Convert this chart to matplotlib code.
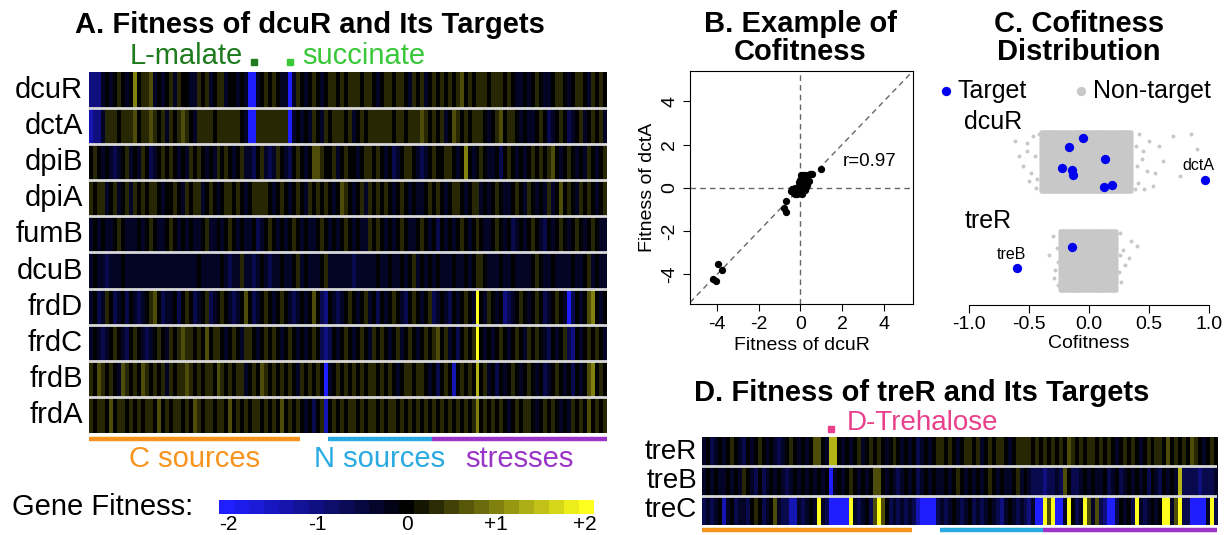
import matplotlib
matplotlib.use('Agg')
import matplotlib.pyplot as plt
import matplotlib.transforms as mtransforms
import numpy as np
from matplotlib.colors import LinearSegmentedColormap, Normalize

plt.rcParams['font.family'] = ['Liberation Sans', 'DejaVu Sans']
plt.rcParams['axes.unicode_minus'] = False

W, H = 1228, 535
NCOL = 130

# cell code -> gene fitness
code_val = {'B': -2.0, 'b': -1.4, 'm': -1.0, 'n': -0.6, 'd': -0.3, '.': 0.0,
            'o': 0.3, 'y': 0.6, 'u': 1.0, 'Y': 1.4, '!': 2.0}

genes_a = ['dcuR', 'dctA', 'dpiB', 'dpiA', 'fumB', 'dcuB', 'frdD', 'frdC', 'frdB', 'frdA']
fit_dcuR = "mmmd.d.o.d .u.ooyd.d. odo..ddo.o d.ood..d.d BBd.o.o.dd Bdo.d.o.d. oo.o.ooo.o o.d.oo.oo. do.od.o.o. o.oy.o.ooo .ooo.o.dd. d.o.dd.oo. d.oo.do.o."
fit_dctA = "bmmdooo.oo oy.ooyo.od o.oyo.dooo o.oooooo.d BBoooooooo Bd.d.do.do .ooo.od.o. oooooo.oo. oooyo.o.od .yo.o.ooo. d.oy.oo.d. dd.o.nd.o. nd.od.o.od"
fit_dpiB = ".o.d.dnd.o d.do.nd.o. o.d.do.o.d .do.o.d.od dn.odndo.d n.o.d.yyo. .od.o..d.o o.o.d.nd.o o.dnd.o..o o.d.u.d.o. dd.n.o.d.d .o.o.oy.d. o.d.do.d.o"
fit_dpiA = "o.ood.od.o do.o.oo.d. .o.do.ood. o.d.oo.o.d .oooo.d.o. d.o.do.o.o .d.yo.d.od o.o.o.d.o. d.dd.o.o.d .oo.d.ood. d.o.dd.o.d o.d.dod.y. o.do.o.d.o"
fit_fumB = "d.d.dd.o.d dd.d.o.dd. o.d.d.dd.o dd.d.o.d.d d.nd.o.d.d .o.d.dd.o. d.d.o.d.dd o.o.d.d.o. dd.o.d.n.d .d.o.d.o.d d.o.d.nd.d .o.dn.d.o. d.o.d.o.dd"
fit_dcuB = "d.ddnddd.d dddddddddd ddddddd.dd ddd.dnddod dnd.dndd.d d.od.ddd.o ddddddnddd dd.dd.dd.d .od.d.d.dd d.dd.d.oo. ddd.dd.ddd d.o.dd.ddd d.dd.od.dd"
fit_frdD = "d.ndo.nd.n .dnd.oy.nd d.n.o.nd.o nd.o.dnd.y .nd.o.d.o. dnd.d.y.nm .dnd.o.d.o d.n.d.o.dn .o.d.ond.d n.d.o.d!.d o.d.mnd.o. d.o.nd.o.d Bn.d.yu.d."
fit_frdC = "d.dnd.o.dn .o.dnd.o.d o.oyoo.o.y .oo.d.o.do o.d.o.o.d. o.d.d.o.nm n.d.o.d.o. do.o.d.od. o.d.o.oy.o d.n.o.o!.d .d.o.d.o.d o.o.dn.d.o nm.d.o.o.d"
fit_frdB = "o.yo.o.dyo .o.yo.o.od o.ooyo.o.o o.yo.o.ood .o.yo.o.o. o.do.o.o.B d.o.o.o.o. oo.o.o.d.o o.oo.d.n.o .b.o.o.Y.o d.n.d.o.d. o.d.nd.o.d .n.d.yu.o."
fit_frdA = "o.oo.y.oo. o.o.oo.y.o .oo.o.yo.o o.oo.y.o.o .oo.o.o.y. o.o.d.n.ob .o.o.oo.o. oo.o.oo.o. o.o.o.o.o. o.o.o.ou.o .o.o.d.o.o o.d.o.o.d. do.o.y.o.o"
rows_a = [fit_dcuR, fit_dctA, fit_dpiB, fit_dpiA, fit_fumB,
          fit_dcuB, fit_frdD, fit_frdC, fit_frdB, fit_frdA]

genes_d = ['treR', 'treB', 'treC']
fit_treR = "d.nd.d.o.d n.d.o.d.dn d.o.d.d.yy .dYY.d.d.o d.o.o.d.o. d.d.nd.d.o o.o.d.oo.o d.o.oo.d.o ooo.o.o.o. o.yo.o.oo. o.o.d.o.o. d.o.oo.y.o .o.yo.d.o."
fit_treB = "d.d.dd.d.d o.dn.nd.d. dnd.d.d.d. d.Bd.d.o.d .d.yy.d.dn d.d.nd.d.d d.d.o.d.d. d.o.d.dd.o d.dnnnmnnd ny.nnd.d.d d.nd.nd.d. d.n.dn.d.d Ynnnnmnnnd"
fit_treC = "ndnd.bd.nd dn.o.nd.yd nnbbdnd.d! dnBBBBB!dn d.ny!y.ndn dndnbBBBBn dnd.dnd.nd nd.dnmd.dn dnmdBB!y!B Bd!.nd!ydy nmBBn.d.n! dnd.d.!!dy !nnBBBBd!n"
rows_d = [fit_treR, fit_treB, fit_treC]

cat_names = ['C sources', 'N sources', 'stresses']
cat_first = [0, 60, 86]
cat_last = [53, 86, 130]
cat_colors = ['#f7941d', '#29abe2', '#9a35c8']

cond_a_names = ['L-malate', 'succinate']
cond_a_cols = [41, 50]
cond_a_colors = ['#1e7b1e', '#38c838']
cond_d_name = 'D-Trehalose'
cond_d_col = 32
cond_d_color = '#e8408a'

# panel B: fitness of dcuR vs dctA
b_x = [-4.20, -4.06, -3.98, -3.78, -0.70, -0.77, -0.70, 0.99,
       -0.45, -0.40, -0.35, -0.30, -0.30, -0.25, -0.20, -0.20, -0.15, -0.10, -0.10,
       -0.05, -0.05, 0.00, 0.00, 0.00, 0.05, 0.05, 0.05, 0.10, 0.10, 0.12, 0.15,
       0.15, 0.20, 0.20, 0.25, 0.25, 0.30, 0.30, 0.35, 0.40, 0.45, 0.50, 0.55,
       -0.02, 0.08, -0.15, 0.18, 0.22, -0.25, 0.02, 0.12, -0.08]
b_y = [-4.20, -4.30, -3.54, -3.80, -0.62, -0.92, -1.12, 0.88,
       -0.15, -0.05, -0.20, -0.10, -0.25, -0.30, -0.15, -0.28, -0.05, -0.20, 0.05,
       -0.25, 0.10, 0.00, 0.20, -0.10, 0.30, 0.45, -0.20, 0.10, 0.55, 0.25, 0.40,
       -0.05, 0.20, 0.60, 0.35, 0.05, 0.50, 0.15, 0.60, 0.30, 0.62, 0.62, 0.65,
       0.35, -0.30, -0.30, 0.10, -0.10, 0.00, 0.60, 0.60, 0.25]
b_r = 0.97

# panel C: cofitness of each regulator with all genes
c_regs = ['dcuR', 'treR']
c_rows = [2, 1]
tgt_cof = [[-0.048, -0.165, 0.134, -0.223, -0.140, -0.131, 0.123, 0.195, 0.965],
           [-0.597, -0.145]]
tgt_jit = [[0.235, 0.144, 0.020, -0.068, -0.088, -0.135, -0.263, -0.236, -0.185],
           [-0.077, 0.135]]
tgt_named = [('dctA', 0.965, -0.185), ('treB', -0.597, -0.077)]
bg_lo = [-0.40, -0.24]
bg_hi = [0.36, 0.23]
stray_cof = [[-0.62, -0.55, -0.52, -0.50, -0.47, -0.58, 0.42, 0.45, 0.48, 0.50,
              0.53, 0.58, 0.62, 0.70, 0.76, 0.85, 0.90, 0.46, 0.40, 0.55, -0.44, -0.42,
              -0.45, -0.48, -0.43, 0.39, 0.41, 0.44, -0.52, 0.38],
             [-0.30, -0.28, -0.33, -0.26, 0.26, 0.28, 0.30, 0.35, 0.27, 0.33, 0.40,
              -0.27, -0.29, 0.25, 0.26, -0.26]]
stray_jit = [[0.20, -0.05, 0.10, -0.20, 0.25, 0.05, 0.28, 0.10, -0.10, 0.20,
              -0.25, 0.15, 0.00, 0.25, -0.15, 0.28, 0.12, -0.28, -0.05, -0.12, -0.27, 0.27,
              0.05, -0.12, -0.18, 0.15, -0.22, 0.02, 0.18, -0.28],
             [0.25, -0.10, 0.05, -0.25, 0.28, 0.10, -0.05, 0.20, -0.22, 0.02, 0.15,
              0.12, -0.18, -0.12, 0.05, -0.02]]

cmap = LinearSegmentedColormap.from_list('fit', [(0.12, 0.12, 1.0), (0, 0, 0), (1.0, 1.0, 0.12)])
norm = Normalize(-2, 2)

fig = plt.figure(figsize=(W / 100, H / 100), dpi=100)
fig_px = mtransforms.Affine2D().scale(1.0 / W, -1.0 / H).translate(0, 1) + fig.transFigure


def px_axes(x0, y0, x1, y1):
    return fig.add_axes([x0 / W, 1 - y1 / H, (x1 - x0) / W, (y1 - y0) / H])


def decode(s):
    vals = [code_val[c] for c in s.replace(' ', '')][:NCOL]
    return vals + [0.0] * (NCOL - len(vals))


def heatmap(x0, y0, x1, y1, genes, rows, label_px, fs):
    ax = px_axes(x0, y0, x1, y1)
    mat = np.array([decode(r) for r in rows])
    ax.imshow(mat, cmap=cmap, norm=norm, aspect='auto', interpolation='nearest')
    for i in range(1, len(genes)):
        ax.axhline(i - 0.5, color='#d9d9d9', lw=2)
    ax.set_xticks([])
    ax.set_yticks([])
    for sp in ax.spines.values():
        sp.set_visible(False)
    tr = mtransforms.blended_transform_factory(ax.transAxes, ax.transData)
    for i, g in enumerate(genes):
        ax.text((label_px - x0) / (x1 - x0), i, g, transform=tr,
                ha='right', va='center', fontsize=fs)
    return ax


def cat_bars(ax, y_bar, y_text, lw, labels):
    tr = mtransforms.blended_transform_factory(ax.transData, fig_px)
    for name, a, b, c in zip(cat_names, cat_first, cat_last, cat_colors):
        ax.plot([a - 0.5, b - 0.5], [y_bar, y_bar], color=c, lw=lw,
                solid_capstyle='butt', transform=tr, clip_on=False)
        if labels:
            ax.text((a + b) / 2 - 0.5, y_text, name, color=c, fontsize=21,
                    ha='center', va='center', transform=tr)
    return tr


# ---- A ----
axA = heatmap(89, 72, 607, 433, genes_a, rows_a, 83, 21)
trA = cat_bars(axA, 439, 459, 3.2, True)
fig.text(310 / W, 1 - 25 / H, 'A. Fitness of dcuR and Its Targets',
         ha='center', va='center', fontsize=21, weight='bold')
for name, col, c, side in zip(cond_a_names, cond_a_cols, cond_a_colors, ['right', 'left']):
    axA.plot([col], [62], marker='s', ms=4.5, color=c, transform=trA, clip_on=False)
    off = -3.0 if side == 'right' else 3.0
    axA.text(col + off, 56, name, color=c, fontsize=21, ha=side, va='center', transform=trA)

# colour key
axK = px_axes(219, 500, 594, 514)
edges = np.linspace(-2.1, 2.1, 26)
mids = (edges[:-1] + edges[1:]) / 2
axK.pcolormesh(edges, [0, 1], mids[None, :], cmap=cmap, norm=norm)
axK.set_xlim(-2.1, 2.1)
axK.set_yticks([])
axK.set_xticks([-2, -1, 0, 1, 2])
axK.set_xticklabels(['-2', '-1', '0', '+1', '+2'], fontsize=15)
axK.tick_params(length=0, pad=1)
for sp in axK.spines.values():
    sp.set_visible(False)
fig.text(12 / W, 1 - 507 / H, 'Gene Fitness:', fontsize=21, va='center')

# ---- B ----
axB = px_axes(690, 71, 913, 304)
axB.axline((0, 0), (1, 1), color='#666666', lw=1, dashes=(4, 3))
axB.axvline(0, color='#666666', lw=1, dashes=(4, 3))
axB.axhline(0, color='#666666', lw=1, dashes=(4, 3))
axB.scatter(b_x, b_y, s=18, color='black', zorder=3)
axB.set_xlim(-5.3, 5.4)
axB.set_ylim(-5.37, 5.4)
axB.set_xticks([-4, -2, 0, 2, 4])
axB.set_yticks([-4, -2, 0, 2, 4])
axB.tick_params(labelsize=14, length=5)
for lab in axB.get_yticklabels():
    lab.set_rotation(90)
    lab.set_va('center')
axB.set_xlabel('Fitness of dcuR', fontsize=14, labelpad=3)
axB.set_ylabel('Fitness of dctA', fontsize=14, labelpad=4)
axB.text(3.3, 1.2, 'r=%.2f' % b_r, fontsize=13.5, ha='center', va='center')
fig.text(800 / W, 1 - 38 / H, 'B. Example of\nCofitness', ha='center', va='center',
         fontsize=21, weight='bold', linespacing=1.0)

# ---- C ----
axC = px_axes(969, 77, 1209, 305)
for k, row in enumerate(c_rows):
    gx, gy = np.meshgrid(np.arange(bg_lo[k], bg_hi[k], 0.008), np.arange(-0.3, 0.301, 0.02))
    axC.scatter(gx.ravel(), row + gy.ravel(), s=9, color='#c8c8c8', lw=0)
    axC.scatter(stray_cof[k], row + np.array(stray_jit[k]), s=8, color='#c8c8c8', lw=0)
    axC.scatter(tgt_cof[k], row + np.array(tgt_jit[k]), s=45, color='#0000ee', lw=0, zorder=3)
    axC.text(-1.04, row + 0.40, c_regs[k], fontsize=18, ha='left', va='center')
for (name, x, j), row in zip(tgt_named, c_rows):
    axC.text(x - 0.05, row + j + 0.14, name, fontsize=11.5, ha='center', va='center')
axC.scatter([-1.19], [2.71], s=45, color='#0000ee', lw=0, clip_on=False)
axC.text(-1.10, 2.71, 'Target', fontsize=18, va='center')
axC.scatter([-0.07], [2.71], s=45, color='#c8c8c8', lw=0, clip_on=False)
axC.text(0.03, 2.71, 'Non-target', fontsize=18, va='center')
axC.set_xlim(-1, 1)
axC.set_ylim(0.55, 2.85)
for s in ['top', 'right', 'left']:
    axC.spines[s].set_visible(False)
axC.set_yticks([])
axC.set_xticks([-1, -0.5, 0, 0.5, 1])
axC.set_xticklabels(['-1.0', '-0.5', '0.0', '0.5', '1.0'])
axC.tick_params(labelsize=14, length=6, pad=2)
axC.set_xlabel('Cofitness', fontsize=14, labelpad=1)
fig.text(1079 / W, 1 - 38 / H, 'C. Cofitness\nDistribution', ha='center', va='center',
         fontsize=21, weight='bold', linespacing=1.0)

# ---- D ----
axD = heatmap(702, 437, 1217, 525, genes_d, rows_d, 697, 20)
trD = cat_bars(axD, 530, 0, 3.2, False)
fig.text(922 / W, 1 - 393 / H, 'D. Fitness of treR and Its Targets',
         ha='center', va='center', fontsize=21, weight='bold')
axD.plot([cond_d_col], [429], marker='s', ms=4.5, color=cond_d_color, transform=trD, clip_on=False)
axD.text(cond_d_col + 4, 423, cond_d_name, color=cond_d_color, fontsize=20,
         ha='left', va='center', transform=trD)

fig.savefig('out.png', dpi=100)
